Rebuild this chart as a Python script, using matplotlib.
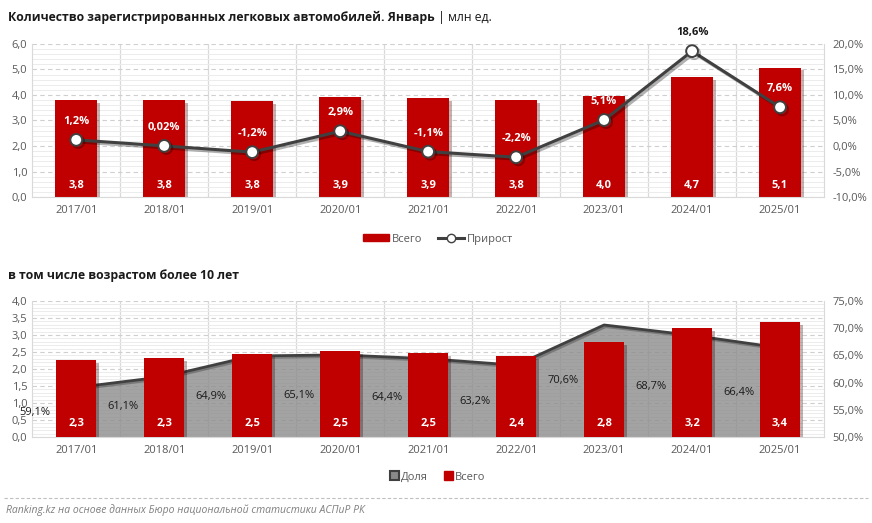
import numpy as np
import matplotlib
matplotlib.use('Agg')
import matplotlib.pyplot as plt
import matplotlib.patheffects as pe
from matplotlib.lines import Line2D
from matplotlib.patches import Patch

plt.rcParams['font.family'] = ['Open Sans', 'DejaVu Sans']

# данные
years = ['2017/01', '2018/01', '2019/01', '2020/01', '2021/01',
         '2022/01', '2023/01', '2024/01', '2025/01']
total = [3.80, 3.81, 3.77, 3.92, 3.87, 3.79, 3.97, 4.71, 5.07]
growth = [1.2, 0.02, -1.2, 2.9, -1.1, -2.2, 5.1, 18.6, 7.6]
growth_lbl = ['1,2%', '0,02%', '-1,2%', '2,9%', '-1,1%', '-2,2%', '5,1%', '18,6%', '7,6%']
old_total = [2.27, 2.33, 2.45, 2.53, 2.47, 2.39, 2.79, 3.21, 3.37]
share = [59.1, 61.1, 64.9, 65.1, 64.4, 63.2, 70.6, 68.7, 66.4]

RED = '#c00000'
DARK = '#404040'
TICK = '#595959'
GRID = '#d9d9d9'
FS = 8
TFS = 8.8

def fmt(v, d=1):
    return f'{v:.{d}f}'.replace('.', ',')

fig = plt.figure(figsize=(8.72, 5.23), dpi=100)
x = np.arange(len(years))
shadow = [pe.SimplePatchShadow(offset=(2, -2), alpha=0.3), pe.Normal()]

def style_axes(ax, ymax, major, minor):
    ax.set_xlim(-0.5, len(years) - 0.5)
    ax.set_ylim(0, ymax)
    ax.set_yticks(np.arange(0, ymax + 1e-9, major))
    ax.set_yticks(np.arange(0, ymax + 1e-9, minor), minor=True)
    ax.set_yticklabels([fmt(v) for v in np.arange(0, ymax + 1e-9, major)])
    ax.grid(axis='y', which='major', color='#cfcfcf', linestyle=(0, (4, 3)), linewidth=0.8)
    ax.grid(axis='y', which='minor', color='#ececec', linestyle='-', linewidth=0.7)
    for xv in np.arange(0.5, len(years) - 0.5):
        ax.axvline(xv, color=GRID, linewidth=0.9, zorder=0.5)
    ax.set_axisbelow(True)
    ax.set_xticks(x)
    ax.set_xticklabels(years)
    ax.tick_params(axis='both', which='both', length=0, colors=TICK, labelsize=FS)
    ax.tick_params(axis='x', pad=6)
    for s in ax.spines.values():
        s.set_color(GRID)
    ax.spines['top'].set_visible(False)

def right_axis(ax, lo, hi, step):
    r = ax.twinx()
    r.set_ylim(lo, hi)
    r.set_yticks(np.arange(lo, hi + 0.01, step))
    r.set_yticklabels([fmt(v) + '%' for v in np.arange(lo, hi + 0.01, step)])
    r.tick_params(length=0, colors=TICK, labelsize=FS, pad=6)
    for s in r.spines.values():
        s.set_visible(False)
    return r

# ---- верхний график ----
ax1 = fig.add_axes([0.037, 0.6233, 0.908, 0.2926])
style_axes(ax1, 6.0, 1.0, 0.2)
bars = ax1.bar(x, total, width=0.48, color=RED, zorder=2)
for b in bars:
    b.set_path_effects(shadow)
for xi, v in zip(x, total):
    ax1.text(xi, 0.45, fmt(v), ha='center', va='center', color='white',
             fontsize=FS, fontweight='bold', zorder=5)

ax1r = right_axis(ax1, -10, 20, 5)
ax1r.plot(x, growth, color=DARK, linewidth=2.2, marker='o', markersize=8.5,
          markerfacecolor='white', markeredgecolor=DARK, markeredgewidth=1.4, zorder=3,
          path_effects=[pe.SimpleLineShadow(offset=(1.5, -1.5), alpha=0.3), pe.Normal()])
for xi, v, lbl in zip(x, growth, growth_lbl):
    col = 'white' if v + 3.6 < total[xi] / 6 * 30 - 10 else '#1a1a1a'
    ax1r.text(xi, v + 3.6, lbl, ha='center', va='center', color=col,
              fontsize=FS, fontweight='bold', zorder=5)

t1 = fig.text(0.009, 0.967, 'Количество зарегистрированных легковых автомобилей. Январь ',
              fontsize=TFS, fontweight='bold', color='#1a1a1a', va='center')
fig.canvas.draw()
bb = t1.get_window_extent(fig.canvas.get_renderer())
fig.text(bb.x1 / fig.bbox.width, 0.967, '| млн ед.', fontsize=TFS, color='#1a1a1a', va='center')

h1 = [Patch(color=RED, label='Всего'),
      Line2D([0], [0], color=DARK, linewidth=2.2, marker='o', markersize=6,
             markerfacecolor='white', markeredgecolor=DARK, label='Прирост')]
fig.legend(handles=h1, loc='center', bbox_to_anchor=(0.502, 0.543), ncol=2, frameon=False,
           fontsize=FS, labelcolor=TICK, handlelength=2.4, handleheight=0.6,
           handletextpad=0.2, columnspacing=1.4)

# ---- нижний график ----
ax2 = fig.add_axes([0.037, 0.1644, 0.908, 0.26])
style_axes(ax2, 4.0, 0.5, 0.1)
ax2r = right_axis(ax2, 50, 75, 5)
# доля рисуется по правой шкале, пересчитанной в единицы левой оси
share_left = [(v - 50) / 25 * 4.0 for v in share]
ax2.fill_between(x, 0, share_left, color='#8a8a8a', alpha=0.78, linewidth=0, zorder=1)
ax2.plot(x, share_left, color=DARK, linewidth=2.0, zorder=2,
         path_effects=[pe.SimpleLineShadow(offset=(1.2, -1.2), alpha=0.25), pe.Normal()])

bars2 = ax2.bar(x, old_total, width=0.46, color=RED, zorder=3)
for b in bars2:
    b.set_path_effects(shadow)
for xi, v in zip(x, old_total):
    ax2.text(xi, 0.4, fmt(v), ha='center', va='center', color='white',
             fontsize=FS, fontweight='bold', zorder=5)
for xi, v, yl in zip(x, share, share_left):
    ax2.text(xi - 0.47, yl / 2, fmt(v) + '%', ha='center', va='center',
             color='#1a1a1a', fontsize=FS, zorder=5)

fig.text(0.009, 0.474, 'в том числе возрастом более 10 лет',
         fontsize=TFS, fontweight='bold', color='#1a1a1a', va='center')

h2 = [Patch(facecolor='#8a8a8a', edgecolor=DARK, linewidth=1.5, label='Доля'),
      Patch(color=RED, label='Всего')]
fig.legend(handles=h2, loc='center', bbox_to_anchor=(0.502, 0.088), ncol=2, frameon=False,
           fontsize=FS, labelcolor=TICK, handlelength=0.8, handleheight=0.8,
           handletextpad=0.2, columnspacing=1.4)

fig.add_artist(Line2D([0.005, 0.995], [0.048, 0.048], color='#bfbfbf', linewidth=0.8,
                      linestyle=(0, (3, 2))))
fig.text(0.007, 0.025, 'Ranking.kz на основе данных Бюро национальной статистики АСПиР РК',
         fontsize=7.5, style='italic', color='#7f7f7f', va='center')

fig.savefig('out.png', dpi=100)
